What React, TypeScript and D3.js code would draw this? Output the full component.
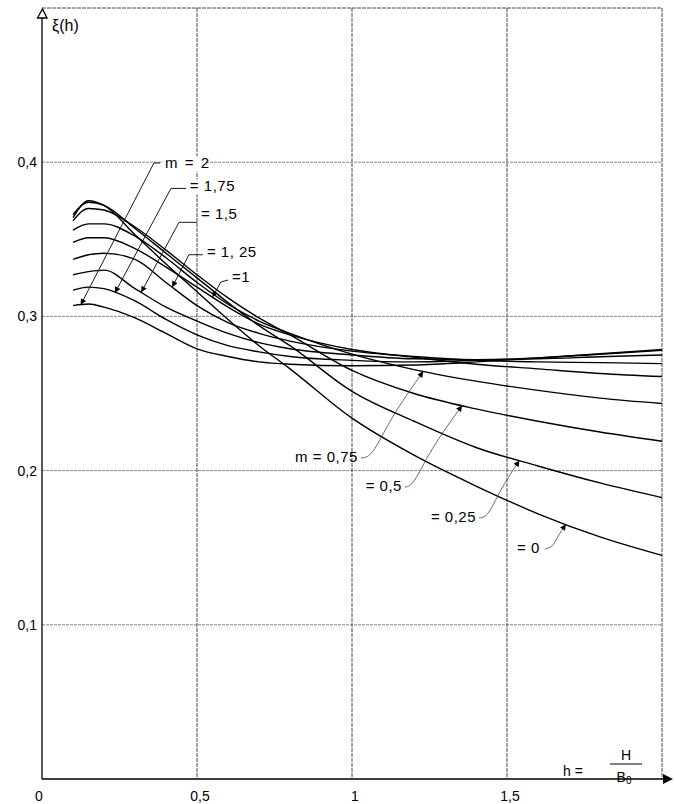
import * as d3 from "d3";
import React from "react";

// h = H / B0 sample positions shared by all curves
const H = [0.1, 0.15, 0.2, 0.3, 0.4, 0.5, 0.6, 0.7, 0.8, 1.0, 1.2, 1.4, 1.6, 1.8, 2.0];

// ξ(h) for each m
const XI_M0 = [0.364, 0.375, 0.372, 0.353, 0.334, 0.316, 0.298, 0.281, 0.266, 0.234, 0.21, 0.19, 0.172, 0.157, 0.145];
const XI_M025 = [0.366, 0.374, 0.372, 0.357, 0.341, 0.325, 0.309, 0.294, 0.281, 0.2514, 0.232, 0.215, 0.203, 0.192, 0.1825];
const XI_M05 = [0.362, 0.37, 0.369, 0.358, 0.343, 0.327, 0.312, 0.299, 0.288, 0.265, 0.25, 0.24, 0.232, 0.225, 0.219];
const XI_M075 = [0.356, 0.36, 0.36, 0.352, 0.338, 0.322, 0.308, 0.297, 0.289, 0.2755, 0.2655, 0.258, 0.252, 0.247, 0.2435];
const XI_M1 = [0.348, 0.351, 0.351, 0.344, 0.332, 0.319, 0.306, 0.295, 0.288, 0.2785, 0.2735, 0.269, 0.266, 0.263, 0.261];
const XI_M125 = [0.337, 0.34, 0.341, 0.337, 0.322, 0.307, 0.296, 0.289, 0.284, 0.2775, 0.274, 0.2715, 0.2705, 0.27, 0.2694];
const XI_M15 = [0.327, 0.329, 0.33, 0.318, 0.306, 0.297, 0.289, 0.283, 0.279, 0.275, 0.2725, 0.272, 0.2725, 0.2738, 0.275];
const XI_M175 = [0.317, 0.319, 0.318, 0.31, 0.298, 0.288, 0.281, 0.277, 0.274, 0.2715, 0.2705, 0.2715, 0.273, 0.2755, 0.278];
const XI_M2 = [0.307, 0.308, 0.306, 0.299, 0.289, 0.279, 0.274, 0.2705, 0.269, 0.268, 0.2685, 0.2705, 0.273, 0.2758, 0.2785];

const X_TICKS = [0, 0.5, 1, 1.5];
const X_TICK_LABELS = ["0", "0,5", "1", "1,5"];
const Y_TICKS = [0.1, 0.2, 0.3, 0.4];
const Y_TICK_LABELS = ["0,1", "0,2", "0,3", "0,4"];

const SERIES = [
  { m: 0, values: XI_M0 },
  { m: 0.25, values: XI_M025 },
  { m: 0.5, values: XI_M05 },
  { m: 0.75, values: XI_M075 },
  { m: 1, values: XI_M1 },
  { m: 1.25, values: XI_M125 },
  { m: 1.5, values: XI_M15 },
  { m: 1.75, values: XI_M175 },
  { m: 2, values: XI_M2 },
];

// curve labels: text anchor, leader stub (start/end) and the h where the arrow hits the curve (data units)
const LEFT_LABELS = [
  { m: 2, text: "m = 2", at: [0.397, 0.396], stub: [[0.381, 0.3995], [0.361, 0.3995]], tipH: 0.125 },
  { m: 1.75, text: "= 1,75", at: [0.477, 0.381], stub: [[0.465, 0.383], [0.416, 0.383]], tipH: 0.235 },
  { m: 1.5, text: "= 1,5", at: [0.513, 0.363], stub: [[0.5, 0.361], [0.442, 0.361]], tipH: 0.32 },
  { m: 1.25, text: "= 1, 25", at: [0.532, 0.3385], stub: [[0.519, 0.34], [0.474, 0.34]], tipH: 0.42 },
  { m: 1, text: "=1", at: [0.613, 0.322], stub: [[0.6, 0.3236], [0.577, 0.3223]], tipH: 0.55 },
];
const RIGHT_LABELS = [
  { m: 0.75, text: "m = 0,75", at: [1.019, 0.2056], stub: [[1.029, 0.2082], [1.065, 0.2088]], tipH: 1.23 },
  { m: 0.5, text: "= 0,5", at: [1.161, 0.1868], stub: [[1.171, 0.1894], [1.197, 0.19]], tipH: 1.355 },
  { m: 0.25, text: "= 0,25", at: [1.4, 0.1667], stub: [[1.41, 0.1693], [1.439, 0.17]], tipH: 1.54 },
  { m: 0, text: "= 0", at: [1.606, 0.1466], stub: [[1.623, 0.1492], [1.648, 0.1505]], tipH: 1.69 },
];

const W = 675;
const HGT = 804;
const FONT = "'Liberation Sans', Arial, sans-serif";

export default function App() {
  const x = d3.scaleLinear().domain([0, 2]).range([42, 662]);
  const y = d3.scaleLinear().domain([0, 0.5]).range([779, 8]);

  const line = d3
    .line<number>()
    .x((_, i) => x(H[i]))
    .y((d) => y(d))
    .curve(d3.curveMonotoneX);

  const valueAt = (m: number, h: number) => {
    const s = SERIES.find((d) => d.m === m)!;
    return d3.scaleLinear().domain(H).range(s.values)(h);
  };

  const leaderStraight = d3.line<number[]>().x((d) => d[0]).y((d) => d[1]);
  const leaderCurved = d3.line<number[]>().x((d) => d[0]).y((d) => d[1]).curve(d3.curveBasis);

  const gridStyle = { stroke: "#666", strokeWidth: 0.8, strokeDasharray: "3,1" };

  return (
    <svg width={W} height={HGT} style={{ position: "absolute", left: 0, top: 0, background: "#fff" }} fontFamily={FONT}>
      <defs>
        <marker id="arr" viewBox="0 0 10 10" refX="10" refY="5" markerWidth="9" markerHeight="6"
          orient="auto" markerUnits="userSpaceOnUse">
          <path d="M0,0 L10,5 L0,10 z" fill="#000" />
        </marker>
      </defs>

      {/* horizontal grid */}
      {Y_TICKS.map((t) => (
        <line key={"gy" + t} x1={x(0)} x2={x(2)} y1={y(t)} y2={y(t)} {...gridStyle} />
      ))}
      {/* vertical grid + frame */}
      {[0.5, 1, 1.5, 2].map((t) => (
        <line key={"gx" + t} x1={x(t)} x2={x(t)} y1={y(0.5)} y2={y(0)} stroke="#333" strokeWidth={0.9} strokeDasharray="4,1" />
      ))}
      <line x1={x(0)} x2={x(2)} y1={y(0.5)} y2={y(0.5)} stroke="#333" strokeWidth={0.9} strokeDasharray="4,1" />

      {/* axes */}
      <line x1={x(0)} x2={x(2) + 6} y1={y(0)} y2={y(0)} stroke="#000" strokeWidth={1.3} />
      <path d={`M${x(2) + 1},${y(0) - 5} L${x(2) + 11},${y(0)} L${x(2) + 1},${y(0) + 5} z`} fill="#000" />
      <line x1={x(0)} x2={x(0)} y1={y(0)} y2={y(0.5) + 9} stroke="#000" strokeWidth={1.3} />
      <path d={`M${x(0) - 4.5},${y(0.5) + 10} L${x(0) + 0.5},${y(0.5) + 1} L${x(0) + 5},${y(0.5) + 10} z`} fill="#fff" stroke="#000" strokeWidth={1.3} />

      {/* tick labels */}
      {Y_TICKS.map((t, i) => (
        <text key={"ty" + t} x={x(0) - 5} y={y(t) + 5} textAnchor="end" fontSize={14}>{Y_TICK_LABELS[i]}</text>
      ))}
      {X_TICKS.map((t, i) => (
        <text key={"tx" + t} x={x(t) + (t === 0 ? -3 : 3)} y={801} textAnchor="middle" fontSize={14}>{X_TICK_LABELS[i]}</text>
      ))}

      {/* axis titles */}
      <text x={x(0) + 10} y={y(0.5) + 23} fontSize={16}>ξ(h)</text>
      <text x={563} y={776} fontSize={14}>h =</text>
      <line x1={610} x2={642} y1={764} y2={764} stroke="#000" strokeWidth={1} />
      <text x={626} y={760} textAnchor="middle" fontSize={14}>H</text>
      <text x={624} y={782} textAnchor="middle" fontSize={14}>B<tspan fontSize={10} dy={2}>0</tspan></text>

      {/* curves */}
      {SERIES.map((s) => (
        <path key={"c" + s.m} d={line(s.values) || ""} fill="none" stroke="#000" strokeWidth={1.4} />
      ))}

      {/* left labels with straight leaders */}
      {LEFT_LABELS.map((l) => {
        const tip = [x(l.tipH), y(valueAt(l.m, l.tipH))];
        const pts = [[x(l.stub[0][0]), y(l.stub[0][1])], [x(l.stub[1][0]), y(l.stub[1][1])], tip];
        const size = l.text.length * 8.5;
        return (
          <g key={"ll" + l.m}>
            <rect x={x(l.at[0]) - 2} y={y(l.at[1]) - 12} width={size} height={15} fill="#fff" />
            <text x={x(l.at[0])} y={y(l.at[1])} fontSize={15} letterSpacing={l.m === 2 ? 1.5 : 0.5}>{l.text}</text>
            <path d={leaderStraight(pts) || ""} fill="none" stroke="#000" strokeWidth={0.9} markerEnd="url(#arr)" />
          </g>
        );
      })}

      {/* right labels with curved leaders */}
      {RIGHT_LABELS.map((l) => {
        const tip = [x(l.tipH), y(valueAt(l.m, l.tipH))];
        const a = [x(l.stub[0][0]), y(l.stub[0][1])];
        const b = [x(l.stub[1][0]), y(l.stub[1][1])];
        const c = [b[0] + (tip[0] - b[0]) * 0.35, b[1] + (tip[1] - b[1]) * 0.45];
        return (
          <g key={"rl" + l.m}>
            <text x={x(l.at[0])} y={y(l.at[1])} textAnchor="end" fontSize={15} letterSpacing={0.5}>{l.text}</text>
            <path d={leaderCurved([a, b, c, tip]) || ""} fill="none" stroke="#444" strokeWidth={0.8} markerEnd="url(#arr)" />
          </g>
        );
      })}
    </svg>
  );
}
